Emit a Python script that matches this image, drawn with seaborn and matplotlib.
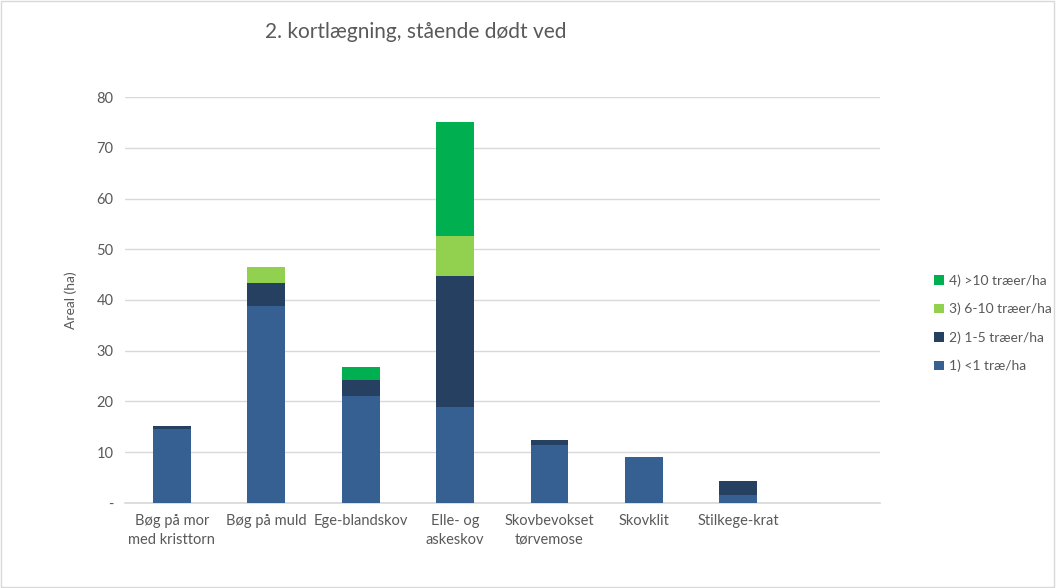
import matplotlib
matplotlib.use("Agg")
import matplotlib.pyplot as plt
import seaborn as sns
import pandas as pd
import numpy as np
from matplotlib.patches import Patch

categories = ["Bøg på mor\nmed kristtorn", "Bøg på muld", "Ege-blandskov", "Elle- og\naskeskov",
              "Skovbevokset\ntørvemose", "Skovklit", "Stilkege-krat", ""]
lt1 = [14.6, 38.8, 21.1, 18.9, 11.4, 9.1, 1.5, 0]     # 1) <1 træ/ha
t1_5 = [0.6, 4.6, 3.1, 25.9, 1.1, 0.0, 2.8, 0]        # 2) 1-5 træer/ha
t6_10 = [0.0, 3.2, 0.0, 7.8, 0.0, 0.0, 0.0, 0]        # 3) 6-10 træer/ha
gt10 = [0.0, 0.0, 2.6, 22.5, 0.0, 0.0, 0.1, 0]        # 4) >10 træer/ha

series_names = ["1) <1 træ/ha", "2) 1-5 træer/ha", "3) 6-10 træer/ha", "4) >10 træer/ha"]
colors = ["#376092", "#254061", "#92D050", "#00B050"]

sns.set_theme(style="white")
plt.rcParams["font.family"] = ["Lato", "DejaVu Sans"]

df = pd.DataFrame({"kat": categories, "s1": lt1, "s2": t1_5, "s3": t6_10, "s4": gt10})
cum = df[["s1", "s2", "s3", "s4"]].cumsum(axis=1)

fig = plt.figure(figsize=(10.57, 5.88), dpi=100)
ax = fig.add_axes([0.118, 0.1446, 0.7145, 0.6904])

# stacked bars: draw cumulative totals from the top layer down
for i in range(3, -1, -1):
    d = pd.DataFrame({"kat": categories, "val": cum.iloc[:, i].values})
    sns.barplot(data=d, x="kat", y="val", order=categories, color=colors[i],
                saturation=1, width=0.4, linewidth=0, ax=ax, zorder=3)

ax.set_ylim(0, 80)
ax.set_xlim(-0.5, len(categories) - 0.5)
ax.set_yticks(np.arange(0, 81, 10))
ax.set_yticklabels(["-"] + [str(v) for v in range(10, 81, 10)])
ax.yaxis.grid(True, color="#D9D9D9", linewidth=1, zorder=0)
ax.set_axisbelow(True)
for s in ["top", "right", "left"]:
    ax.spines[s].set_visible(False)
ax.spines["bottom"].set_color("#D9D9D9")
ax.tick_params(axis="both", length=0, colors="#595959", labelsize=10.5, pad=8)
for lbl in ax.get_xticklabels():
    lbl.set_multialignment("center")
    lbl.set_linespacing(1.45)
ax.set_xlabel("")
ax.set_ylabel("Areal (ha)", color="#595959", fontsize=10, labelpad=14)

fig.text(0.393, 0.945, "2. kortlægning, stående dødt ved", fontsize=15,
         color="#595959", ha="center", va="center")

handles = [Patch(facecolor=colors[i], edgecolor="none") for i in range(3, -1, -1)]
labels = [series_names[i] for i in range(3, -1, -1)]
fig.legend(handles, labels, loc="center left", bbox_to_anchor=(0.872, 0.45),
           frameon=False, fontsize=10, labelcolor="#595959", handlelength=0.7,
           handleheight=0.7, handletextpad=0.4, labelspacing=1.15)

fig.patches.append(plt.Rectangle((0.001, 0.001), 0.996, 0.997, transform=fig.transFigure,
                                 fill=False, edgecolor="#D9D9D9", linewidth=1))

fig.savefig("out.png", dpi=100, facecolor="white")
